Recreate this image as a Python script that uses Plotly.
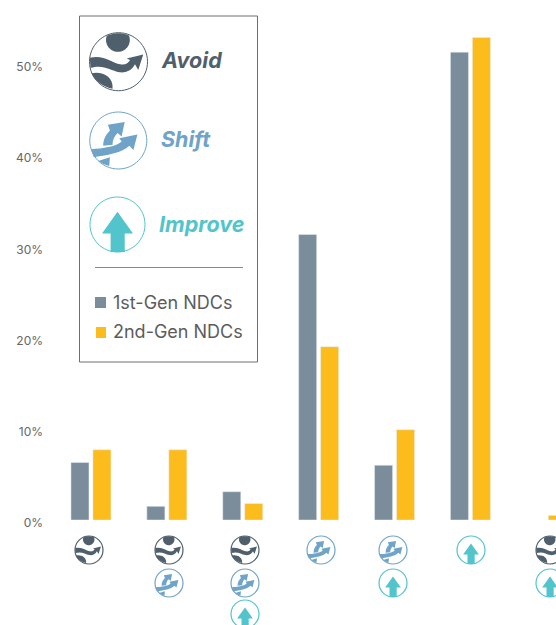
import math
import plotly.graph_objects as go

categories = ["Avoid", "Avoid + Shift", "Avoid + Shift + Improve", "Shift", "Shift + Improve", "Improve", "Avoid + Improve"]
first_gen = [6.3, 1.5, 3.1, 31.3, 6.0, 51.3, None]
second_gen = [7.7, 7.7, 1.8, 19.0, 9.9, 52.9, 0.5]
tick_values = [0, 10, 20, 30, 40, 50]
tick_labels = ["0%", "10%", "20%", "30%", "40%", "50%"]
icon_x_px = [89, 169, 245, 321, 393, 471, 550]
icon_sets = [["A"], ["A", "S"], ["A", "S", "I"], ["S"], ["S", "I"], ["I"], ["A", "I"]]

GREY, YELLOW = "#7b8d9a", "#fbbc1c"
AVOID, SHIFT, IMPROVE = "#4f5f6b", "#6fa3c7", "#52c4cb"
W, H = 556, 625
L, T, B = 53, 10, 105
PW, PH = W - L, H - T - B
FONT = "Inter"


def px(x):
    return (x - L) / PW


def py(y):
    return 1 - (y - T) / PH


def circle_segs(cx, cy, r):
    k = 0.5523 * r
    return [("M", [(cx + r, cy)]),
            ("C", [(cx + r, cy + k), (cx + k, cy + r), (cx, cy + r)]),
            ("C", [(cx - k, cy + r), (cx - r, cy + k), (cx - r, cy)]),
            ("C", [(cx - r, cy - k), (cx - k, cy - r), (cx, cy - r)]),
            ("C", [(cx + k, cy - r), (cx + r, cy - k), (cx + r, cy)]),
            ("Z", [])]


def n(points, ox, oy, rr):
    return [((a - ox) / rr, (b - oy) / rr) for a, b in points]


def poly(points):
    segs = [("M", [points[0]])] + [("L", [p]) for p in points[1:]]
    return segs + [("Z", [])]


def to_path(segs, cx, cy, r):
    out = []
    for cmd, pts in segs:
        out.append(cmd + " ".join(f"{px(cx + a * r):.5f},{py(cy + b * r):.5f}" for a, b in pts))
    return " ".join(out)


def curve(items, ox, oy, rr):
    return [(c, n(p, ox, oy, rr)) for c, p in items]


def clipped_head(cx, cy, r):
    pts = []
    for i in range(48):
        t = 2 * math.pi * i / 48
        a, b = cx + r * math.cos(t), cy + r * math.sin(t)
        d = math.hypot(a, b)
        if d > 0.98:
            a, b = a * 0.98 / d, b * 0.98 / d
        pts.append((a, b))
    return poly(pts)


avoid_parts = [
    clipped_head(-0.02, -0.75, 0.41),
    curve([("M", [(28, 143)]), ("C", [(70, 133), (95, 158), (120, 163)]),
           ("C", [(135, 166), (145, 160), (150, 150)]), ("L", [(140, 145)]), ("L", [(190, 133)]),
           ("L", [(175, 180)]), ("L", [(165, 163)]), ("C", [(155, 184), (135, 189), (118, 187)]),
           ("C", [(90, 182), (70, 162), (30, 174)]), ("Z", [])], 115, 155, 88),
    curve([("M", [(33, 190)]), ("C", [(65, 183), (100, 200), (97, 237)]),
           ("C", [(70, 232), (45, 215), (33, 190)]), ("Z", [])], 115, 155, 88),
]
shift_parts = [
    curve([("M", [(70, 138)]), ("C", [(70, 118), (78, 105), (90, 92)]), ("L", [(84, 75)]), ("L", [(134, 67)]),
           ("L", [(125, 110)]), ("L", [(113, 100)]), ("C", [(102, 110), (97, 125), (98, 135)]), ("Z", [])], 115, 122, 85),
    curve([("M", [(34, 148)]), ("C", [(70, 145), (105, 142), (125, 125)]), ("L", [(118, 115)]), ("L", [(172, 104)]),
           ("L", [(160, 150)]), ("L", [(148, 138)]), ("C", [(125, 160), (85, 165), (42, 172)]), ("Z", [])], 115, 122, 85),
    poly(n([(55, 183), (90, 172), (88, 198), (72, 193)], 115, 122, 85)),
]
improve_parts = [
    poly(n([(112, 336), (157, 399), (133, 399), (133, 453), (92, 453), (92, 399), (67, 399)], 112, 373, 80)),
]
ICONS = {"A": (AVOID, avoid_parts), "S": (SHIFT, shift_parts), "I": (IMPROVE, improve_parts)}


def icon(kind, cx, cy, r, lw):
    color, parts = ICONS[kind]
    res = [dict(type="path", xref="paper", yref="paper", path=to_path(circle_segs(0, 0, 1), cx, cy, r),
                line=dict(color=color, width=lw), fillcolor="rgba(0,0,0,0)")]
    for part in parts:
        res.append(dict(type="path", xref="paper", yref="paper", path=to_path(part, cx, cy, r),
                        line=dict(width=0), fillcolor=color))
    return res


shapes = []
for xp, kinds in zip(icon_x_px, icon_sets):
    for kind, yp in zip(kinds, [550, 583, 614]):
        shapes += icon(kind, xp, yp, 14, 1.2)

shapes.append(dict(type="rect", xref="paper", yref="paper", x0=px(79.5), x1=px(257.5), y0=py(16), y1=py(362),
                   line=dict(color="#6e6e6e", width=1), fillcolor="#ffffff", layer="above"))
shapes += icon("A", 118.5, 61.7, 29, 1)
shapes += icon("S", 118.3, 140.5, 28.5, 1)
shapes += icon("I", 117.5, 224.5, 27.5, 1)
shapes.append(dict(type="line", xref="paper", yref="paper", x0=px(95), x1=px(243), y0=py(267.5), y1=py(267.5),
                   line=dict(color="#8a8a8a", width=1)))
shapes.append(dict(type="rect", xref="paper", yref="paper", x0=px(95), x1=px(106), y0=py(297), y1=py(308),
                   line=dict(width=0), fillcolor=GREY))
shapes.append(dict(type="rect", xref="paper", yref="paper", x0=px(96), x1=px(106), y0=py(327), y1=py(338),
                   line=dict(width=0), fillcolor=YELLOW))


def label(text, x, y, size, color, bold=False):
    body = f"<b><i>{text}</i></b>" if bold else text
    return dict(text=body, xref="paper", yref="paper", x=px(x - 2), y=py(y), xanchor="left", yanchor="middle",
                showarrow=False, font=dict(family=FONT, size=size, color=color))


annotations = [
    label("Avoid", 160.5, 60, 21.5, AVOID, True),
    label("Shift", 161, 139, 21.5, SHIFT, True),
    label("Improve", 159, 224, 21.5, IMPROVE, True),
    label("1st-Gen NDCs", 113, 302, 18, "#5c5c5c"),
    label("2nd-Gen NDCs", 113, 331.5, 18, "#5c5c5c"),
]

fig = go.Figure()
fig.add_bar(name="1st-Gen NDCs", x=categories, y=first_gen, marker_color=GREY)
fig.add_bar(name="2nd-Gen NDCs", x=categories, y=second_gen, marker_color=YELLOW)
fig.update_layout(
    width=W, height=H, autosize=False, showlegend=False, barmode="group", bargap=0.421, bargroupgap=0.18,
    margin=dict(l=L, r=0, t=T, b=B, pad=0), plot_bgcolor="white", paper_bgcolor="white",
    font=dict(family=FONT), shapes=shapes, annotations=annotations,
    xaxis=dict(range=[-0.5, PW / 75.9 - 0.5], showticklabels=False, showgrid=False, zeroline=False, ticks=""),
    yaxis=dict(range=[0, PH / 9.12], tickvals=tick_values, ticktext=tick_labels, showgrid=False, zeroline=False,
               ticks="", ticklabelshift=3, ticklabelstandoff=9, tickfont=dict(family=FONT, size=12, color="#666666")),
)
fig.write_html("out.html", config={"displayModeBar": False},
               post_script="document.body.style.margin='0';document.documentElement.style.overflow='hidden';")
